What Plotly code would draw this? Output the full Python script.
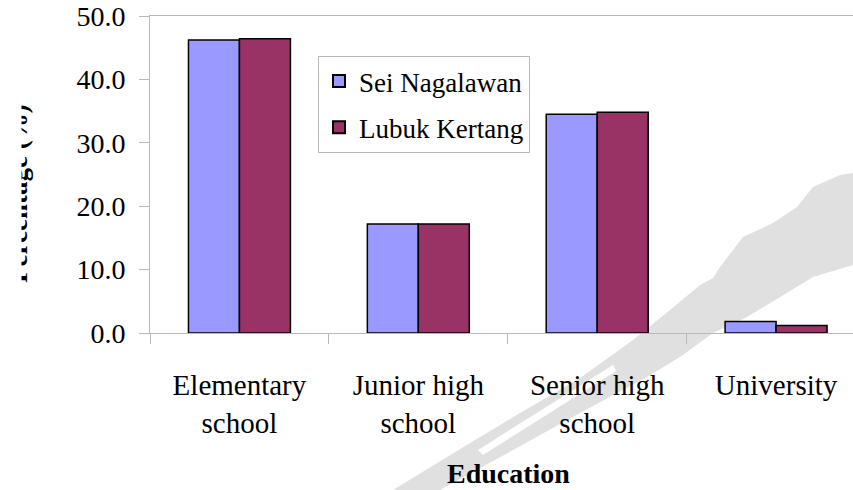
import plotly.graph_objects as go

# Education level of respondents in the two villages
categories = ["Elementary<br>school", "Junior high<br>school", "Senior high<br>school", "University"]
sei_nagalawan = [46.2, 17.2, 34.5, 1.8]
lubuk_kertang = [46.4, 17.2, 34.8, 1.2]
y_ticks = [0, 10, 20, 30, 40, 50]

W, H = 853, 490
L, T, PLOT_W, PLOT_H = 150, 16, 703, 317
SERIF = "Liberation Serif, Times New Roman, serif"


def px(x, y):
    """Pixel position on the page -> paper coordinates of the plot area."""
    return (x - L) / PLOT_W, (T + PLOT_H - y) / PLOT_H


def path(points):
    pts = [px(x, y) for x, y in points]
    return "M " + " L ".join(f"{a:.4f},{b:.4f}" for a, b in pts) + " Z"


fig = go.Figure()
fig.add_trace(go.Bar(
    x=categories, y=sei_nagalawan, name="Sei Nagalawan", legendgroup="a",
    marker=dict(color="#9999FF", line=dict(color="black", width=1.5)),
))
fig.add_trace(go.Bar(
    x=categories, y=lubuk_kertang, name="Lubuk Kertang", legendgroup="b",
    marker=dict(color="#993366", line=dict(color="black", width=1.5)),
))

# faint brush-stroke mark in the background
stroke = [(393, 490), (447, 457), (520, 413), (580, 378), (633, 340), (670, 310),
          (700, 285), (713, 278), (720, 267), (743, 237), (773, 223), (797, 207),
          (813, 187), (840, 175), (853, 173), (853, 265), (813, 277), (747, 317),
          (713, 333), (680, 357), (647, 377), (580, 413), (513, 450), (440, 490)]
slit = [(613, 365), (616, 371), (483, 455), (478, 450)]
shapes = [
    dict(type="path", xref="paper", yref="paper", path=path(stroke),
         fillcolor="#e0e0e0", line=dict(width=0), layer="below"),
    dict(type="path", xref="paper", yref="paper", path=path(slit),
         fillcolor="white", line=dict(width=0), layer="below"),
]

lx, ly = px(318, 56)
tx, ty = px(508, 473)
yx, yy = px(18, 194)
cx, cy = px(0, 194)

fig.update_layout(
    width=W, height=H,
    margin=dict(l=L, r=W - L - PLOT_W, t=T, b=H - T - PLOT_H, autoexpand=False),
    paper_bgcolor="white", plot_bgcolor="white",
    font=dict(family=SERIF, color="black", size=27),
    barmode="group", bargap=0.43, bargroupgap=0,
    showlegend=True,
    legend=dict(
        x=lx, y=ly, xanchor="left", yanchor="top",
        bgcolor="white", bordercolor="#b8b8b8", borderwidth=1,
        font=dict(family=SERIF, size=27, color="black"),
        tracegroupgap=8, itemsizing="constant",
    ),
    xaxis=dict(
        range=[-0.5, 3.43], showgrid=False, zeroline=False,
        showline=True, linecolor="#b8b8b8", linewidth=1, mirror=True,
        ticks="outside", ticklen=10, tickcolor="#b8b8b8",
        tickson="boundaries", ticklabelstandoff=26,
        tickfont=dict(family=SERIF, size=29, color="black"),
    ),
    yaxis=dict(
        range=[0, 50], tickvals=y_ticks, tickformat=".1f",
        showgrid=False, zeroline=False,
        showline=True, linecolor="#b8b8b8", linewidth=1,
        ticks="outside", ticklen=10, tickcolor="#b8b8b8",
        ticklabelstandoff=8,
        tickfont=dict(family=SERIF, size=28, color="black"),
    ),
    shapes=shapes,
    annotations=[
        dict(text="<b>Education</b>", x=tx, y=ty, xref="paper", yref="paper",
             xanchor="center", yanchor="middle", showarrow=False, borderpad=0,
             font=dict(family=SERIF, size=28, color="black")),
        dict(text="<b>Percentage (%)</b>", x=yx, y=yy, xref="paper", yref="paper",
             xanchor="center", yanchor="middle", textangle=-90, showarrow=False,
             font=dict(family=SERIF, size=27, color="black")),
        # the chart's left edge trims the axis title
        dict(text=" ", x=cx, y=cy, xref="paper", yref="paper",
             xanchor="left", yanchor="middle", showarrow=False,
             width=20, height=230, bgcolor="white", borderpad=0,
             font=dict(size=4)),
    ],
)

fig.write_html("out.html")
